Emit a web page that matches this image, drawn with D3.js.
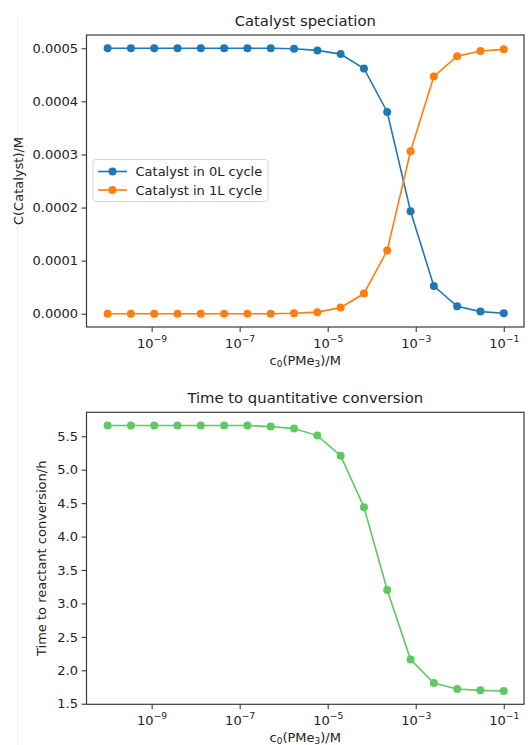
<!DOCTYPE html>
<html>
<head>
<meta charset="utf-8">
<script src="https://cdn.jsdelivr.net/npm/d3@7"></script>
<style>
  body { margin: 0; background: #fff; }
  svg text { font-family: "DejaVu Sans", sans-serif; fill: #222; }
  .domain { stroke: #3a3a3a; stroke-width: 1.2; }
  .tick line { stroke: #3a3a3a; stroke-width: 1.1; }
</style>
</head>
<body>
<svg id="chart" width="528" height="745"></svg>
<script>
// c0(PMe3) in M, 18 points on a log grid
var concentrations = [1e-10, 3.38e-10, 1.145e-9, 3.87e-9, 1.31e-8, 4.44e-8, 1.50e-7, 5.08e-7,
  1.72e-6, 5.82e-6, 1.97e-5, 6.66e-5, 2.25e-4, 7.63e-4, 2.58e-3, 8.73e-3, 2.95e-2, 1e-1];

var catalyst0L = [5.0e-4, 5.0e-4, 5.0e-4, 5.0e-4, 5.0e-4, 5.0e-4, 5.0e-4, 5.0e-4,
  4.99e-4, 4.96e-4, 4.89e-4, 4.62e-4, 3.80e-4, 1.93e-4, 5.2e-5, 1.4e-5, 4e-6, 1e-6];
var catalyst1L = [0, 0, 0, 0, 0, 0, 0, 0,
  1e-6, 3e-6, 1.15e-5, 3.8e-5, 1.19e-4, 3.06e-4, 4.47e-4, 4.85e-4, 4.95e-4, 4.98e-4];

var conversionTime = [5.66, 5.66, 5.66, 5.66, 5.66, 5.66, 5.66, 5.645,
  5.615, 5.51, 5.21, 4.44, 3.20, 2.16, 1.81, 1.72, 1.70, 1.69];

var xTickValues = [1e-9, 1e-7, 1e-5, 1e-3, 1e-1];
var xTickExponents = ['\u22129', '\u22127', '\u22125', '\u22123', '\u22121'];
var topYTicks = [0, 0.0001, 0.0002, 0.0003, 0.0004, 0.0005];
var bottomYTicks = [1.5, 2.0, 2.5, 3.0, 3.5, 4.0, 4.5, 5.0, 5.5];

var seriesTop = [
  { name: 'Catalyst in 0L cycle', values: catalyst0L, color: '#1f77b4' },
  { name: 'Catalyst in 1L cycle', values: catalyst1L, color: '#ff7f0e' }
];
var seriesBottom = [
  { name: 'Time', values: conversionTime, color: '#5ec962' }
];

var svg = d3.select('#chart');

// faint border of the original screenshot
svg.append('line')
  .attr('x1', 17.5).attr('x2', 17.5)
  .attr('y1', 14).attr('y2', 745)
  .attr('stroke', '#f0f0f0');

var left = 86.5, right = 524;

function panel(opts) {
  var g = svg.append('g');

  var x = d3.scaleLog()
    .domain([Math.pow(10, -10.48), Math.pow(10, -0.54)])
    .range([left, right]);
  var y = d3.scaleLinear()
    .domain(opts.yDomain)
    .range([opts.bottom, opts.top]);

  // plot frame
  g.append('rect')
    .attr('x', left).attr('y', opts.top)
    .attr('width', right - left).attr('height', opts.bottom - opts.top)
    .attr('fill', 'none')
    .attr('stroke', '#3a3a3a')
    .attr('stroke-width', 1.2);

  var line = d3.line()
    .x(function(d, i) { return x(concentrations[i]); })
    .y(function(d) { return y(d); });

  opts.series.forEach(function(s) {
    g.append('path')
      .datum(s.values)
      .attr('d', line)
      .attr('fill', 'none')
      .attr('stroke', s.color)
      .attr('stroke-width', 1.6);

    g.selectAll(null)
      .data(s.values)
      .enter()
      .append('circle')
      .attr('cx', function(d, i) { return x(concentrations[i]); })
      .attr('cy', function(d) { return y(d); })
      .attr('r', 4)
      .attr('fill', s.color);
  });

  // y axis
  var yAxis = g.append('g')
    .attr('transform', 'translate(' + left + ',0)')
    .call(d3.axisLeft(y)
      .tickValues(opts.yTicks)
      .tickFormat(opts.yFormat)
      .tickSize(5)
      .tickPadding(3.5));
  yAxis.select('.domain').remove();
  yAxis.selectAll('text')
    .style('font-size', '13px')
    .style('font-family', '"DejaVu Sans", sans-serif');

  // x axis with 10^n labels
  var xAxis = g.append('g')
    .attr('transform', 'translate(0,' + opts.bottom + ')')
    .call(d3.axisBottom(x)
      .tickValues(xTickValues)
      .tickFormat('')
      .tickSize(5));
  xAxis.select('.domain').remove();
  xAxis.selectAll('.tick text').remove();
  xAxis.selectAll('.tick').each(function(d, i) {
    var t = d3.select(this).append('text')
      .attr('y', 20.5)
      .attr('text-anchor', 'middle')
      .style('font-size', '13px')
      .style('font-family', '"DejaVu Sans", sans-serif');
    t.append('tspan').text('10');
    t.append('tspan')
      .attr('dy', -5.5)
      .style('font-size', '9.2px')
      .text(xTickExponents[i]);
  });

  // title
  g.append('text')
    .attr('x', (left + right) / 2)
    .attr('y', opts.top - 9)
    .attr('text-anchor', 'middle')
    .style('font-size', '14.8px')
    .text(opts.title);

  // x label c0(PMe3)/M
  var xl = g.append('text')
    .attr('x', (left + right) / 2)
    .attr('y', opts.bottom + 37.5)
    .attr('text-anchor', 'middle')
    .style('font-size', '13px');
  xl.append('tspan').text('c');
  xl.append('tspan').attr('dy', 2.5).style('font-size', '9px').text('0');
  xl.append('tspan').attr('dy', -2.5).text('(PMe');
  xl.append('tspan').attr('dy', 2.5).style('font-size', '9px').text('3');
  xl.append('tspan').attr('dy', -2.5).text(')/M');

  // y label
  g.append('text')
    .attr('transform', 'translate(' + opts.yLabelX + ',' + ((opts.top + opts.bottom) / 2) + ') rotate(-90)')
    .attr('text-anchor', 'middle')
    .style('font-size', '13px')
    .text(opts.yLabel);

  return { g: g, x: x, y: y };
}

var topPanel = panel({
  top: 35, bottom: 327,
  yDomain: [-0.000025, 0.000525],
  yTicks: topYTicks,
  yFormat: d3.format('.4f'),
  series: seriesTop,
  title: 'Catalyst speciation',
  yLabel: 'C(Catalyst)/M',
  yLabelX: 23
});

panel({
  top: 412.3, bottom: 704.3,
  yDomain: [1.4915, 5.8585],
  yTicks: bottomYTicks,
  yFormat: d3.format('.1f'),
  series: seriesBottom,
  title: 'Time to quantitative conversion',
  yLabel: 'Time to reactant conversion/h',
  yLabelX: 46
});

// legend for the top panel
var legend = topPanel.g.append('g')
  .attr('transform', 'translate(93,159.5)');

legend.append('rect')
  .attr('width', 175)
  .attr('height', 42)
  .attr('rx', 3)
  .attr('fill', 'rgba(255,255,255,0.85)')
  .attr('stroke', '#d6d6d6');

var items = legend.selectAll('g.item')
  .data(seriesTop)
  .enter()
  .append('g')
  .attr('class', 'item')
  .attr('transform', function(d, i) { return 'translate(0,' + (12 + i * 18.5) + ')'; });

items.append('line')
  .attr('x1', 5).attr('x2', 34)
  .attr('stroke', function(d) { return d.color; })
  .attr('stroke-width', 1.6);
items.append('circle')
  .attr('cx', 19.5)
  .attr('r', 4)
  .attr('fill', function(d) { return d.color; });
items.append('text')
  .attr('x', 42.5)
  .attr('dy', '0.35em')
  .style('font-size', '13px')
  .text(function(d) { return d.name; });
</script>
</body>
</html>
